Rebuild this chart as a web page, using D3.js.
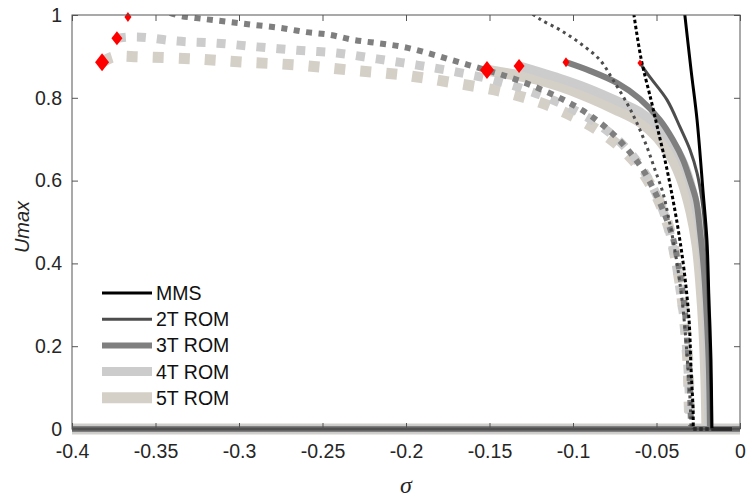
<!DOCTYPE html>
<html>
<head>
<meta charset="utf-8">
<script src="https://cdn.jsdelivr.net/npm/d3@7"></script>
<style>
  body { margin: 0; background: #fff; }
  svg { display: block; font-family: "Liberation Sans", Arial, sans-serif; }
  .tick text { font-size: 19.5px; fill: #262626; }
  .legend text { font-size: 19.5px; fill: #111; }
</style>
</head>
<body>
<svg width="747" height="498"></svg>
<script>
// ---- data: [sigma, Umax] ----
var sigmaTicks = [-0.4, -0.35, -0.3, -0.25, -0.2, -0.15, -0.1, -0.05, 0];
var sigmaTickLabels = ["-0.4", "-0.35", "-0.3", "-0.25", "-0.2", "-0.15", "-0.1", "-0.05", "0"];
var uTicks = [0, 0.2, 0.4, 0.6, 0.8, 1];
var uTickLabels = ["0", "0.2", "0.4", "0.6", "0.8", "1"];
var legendLabels = ["MMS", "2T ROM", "3T ROM", "4T ROM", "5T ROM"];

var mmsStable = [[-0.0335, 1.017], [-0.0293, 0.867], [-0.0257, 0.746], [-0.0222, 0.577], [-0.0198, 0.457],
    [-0.0186, 0.312], [-0.0174, 0.167], [-0.0168, 0]];
var mmsUnstable = [[-0.0641, 1.017], [-0.0593, 0.896], [-0.0533, 0.795], [-0.0491, 0.722], [-0.0443, 0.638],
    [-0.0401, 0.553], [-0.0365, 0.469], [-0.0335, 0.384], [-0.0305, 0.263], [-0.0293, 0.143],
    [-0.0281, 0.046], [-0.0280, 0]];
var mmsZeroStable = [[-0.0168, 0], [-0.0048, 0]];
var mmsZeroUnstable = [[-0.0280, 0], [-0.0168, 0]];

var rom2Stable = [[-0.0599, 0.884], [-0.0539, 0.850], [-0.0437, 0.795], [-0.0359, 0.729], [-0.0299, 0.674],
    [-0.0257, 0.618], [-0.0228, 0.553], [-0.0204, 0.457], [-0.0192, 0.336], [-0.0180, 0.191],
    [-0.0174, 0.070], [-0.0171, 0]];
var rom2Unstable = [[-0.1275, 1.012], [-0.1198, 0.990], [-0.1078, 0.964], [-0.0958, 0.932], [-0.0838, 0.891],
    [-0.0760, 0.843], [-0.0677, 0.787], [-0.0617, 0.739], [-0.0557, 0.681], [-0.0509, 0.626],
    [-0.0461, 0.570], [-0.0431, 0.517], [-0.0401, 0.457], [-0.0371, 0.384], [-0.0347, 0.312],
    [-0.0329, 0.239], [-0.0311, 0.143], [-0.0299, 0.070], [-0.0293, 0]];

var rom3Stable = [[-0.1042, 0.886], [-0.0898, 0.865], [-0.0737, 0.836], [-0.0599, 0.797], [-0.0479, 0.746],
    [-0.0401, 0.698], [-0.0341, 0.650], [-0.0299, 0.601], [-0.0263, 0.553], [-0.0240, 0.481],
    [-0.0216, 0.384], [-0.0198, 0.263], [-0.0186, 0.143], [-0.0180, 0]];
var rom3Unstable = [[-0.3413, 1.005], [-0.3353, 0.998], [-0.3204, 0.990], [-0.3054, 0.983], [-0.2910, 0.976],
    [-0.2754, 0.969], [-0.2605, 0.959], [-0.2455, 0.952], [-0.2317, 0.940], [-0.2168, 0.932],
    [-0.2018, 0.923], [-0.1868, 0.908], [-0.1725, 0.891], [-0.1581, 0.874], [-0.1437, 0.857],
    [-0.1299, 0.838], [-0.1156, 0.814], [-0.1018, 0.787], [-0.0892, 0.756], [-0.0772, 0.717],
    [-0.0671, 0.674], [-0.0581, 0.626], [-0.0509, 0.572], [-0.0449, 0.517], [-0.0401, 0.461],
    [-0.0371, 0.401], [-0.0347, 0.341], [-0.0329, 0.280], [-0.0317, 0.215], [-0.0305, 0.150],
    [-0.0299, 0.087], [-0.0293, 0]];

var rom4Stable = [[-0.1323, 0.877], [-0.1198, 0.862], [-0.1048, 0.843], [-0.0898, 0.821], [-0.0749, 0.795],
    [-0.0599, 0.766], [-0.0479, 0.727], [-0.0389, 0.681], [-0.0323, 0.626], [-0.0275, 0.558],
    [-0.0240, 0.481], [-0.0216, 0.384], [-0.0198, 0.263], [-0.0192, 0.143], [-0.0186, 0]];
var rom4Unstable = [[-0.3731, 0.944], [-0.3611, 0.947], [-0.3371, 0.937], [-0.3132, 0.932], [-0.2892, 0.923],
    [-0.2653, 0.915], [-0.2413, 0.908], [-0.2174, 0.894], [-0.1934, 0.879], [-0.1695, 0.862],
    [-0.1455, 0.841], [-0.1198, 0.807], [-0.0958, 0.763], [-0.0778, 0.715], [-0.0647, 0.662],
    [-0.0551, 0.606], [-0.0479, 0.546], [-0.0425, 0.481], [-0.0389, 0.413], [-0.0359, 0.336],
    [-0.0335, 0.263], [-0.0317, 0.179], [-0.0305, 0.094], [-0.0299, 0]];

var rom5Stable = [[-0.1515, 0.867], [-0.1377, 0.857], [-0.1198, 0.843], [-0.1048, 0.824], [-0.0898, 0.800],
    [-0.0749, 0.773], [-0.0599, 0.742], [-0.0491, 0.703], [-0.0407, 0.655], [-0.0341, 0.594],
    [-0.0293, 0.524], [-0.0257, 0.444], [-0.0234, 0.348], [-0.0216, 0.239], [-0.0204, 0.118],
    [-0.0198, 0]];
var rom5Unstable = [[-0.3820, 0.886], [-0.3754, 0.899], [-0.3593, 0.899], [-0.3275, 0.894], [-0.2970, 0.886],
    [-0.2647, 0.879], [-0.2335, 0.867], [-0.2018, 0.855], [-0.1713, 0.836], [-0.1395, 0.812],
    [-0.1108, 0.775], [-0.0826, 0.715], [-0.0641, 0.650], [-0.0509, 0.570], [-0.0431, 0.493],
    [-0.0383, 0.408], [-0.0353, 0.336], [-0.0329, 0.251], [-0.0311, 0.155], [-0.0305, 0.070],
    [-0.0299, 0]];

var zeroBranch = [[-0.4, 0], [0, 0]];

// saddle-node points (red diamonds)
var foldSeries = ["5T", "5T", "4T", "4T", "3T", "3T", "2T"];
var foldSigma = [-0.3820, -0.1515, -0.3731, -0.1323, -0.3665, -0.1042, -0.0599];
var foldU = [0.886, 0.867, 0.944, 0.877, 0.995, 0.886, 0.884];

// ---- styles ----
var styles = {
    "MMS": { color: "#000000", width: 3, dots: "3.5,2.5" },
    "2T": { color: "#4d4d4d", width: 3, dots: "3,4" },
    "3T": { color: "#7f7f7f", width: 6, dots: "6,6.5" },
    "4T": { color: "#cccccc", width: 9, dots: "9,11" },
    "5T": { color: "#d4d0c8", width: 11, dots: "11,15" }
};
var diamondSize = { "5T": [7, 9], "4T": [5.5, 7], "3T": [3.5, 5], "2T": [2.5, 3.5] };

var margin = { left: 72, right: 740, top: 15, bottom: 429 };
var xScale = d3.scaleLinear().domain([-0.4, 0]).range([margin.left, margin.right]);
var yScale = d3.scaleLinear().domain([0, 1]).range([margin.bottom, margin.top]);

var svg = d3.select("svg");

svg.append("clipPath").attr("id", "plotclip")
    .append("rect")
    .attr("x", margin.left).attr("y", margin.top)
    .attr("width", margin.right - margin.left)
    .attr("height", margin.bottom - margin.top + 10);

var line = d3.line()
    .x(function(d) { return xScale(d[0]); })
    .y(function(d) { return yScale(d[1]); })
    .curve(d3.curveCatmullRom.alpha(0.5));

var plot = svg.append("g").attr("clip-path", "url(#plotclip)");

// draw order: widest first, MMS on top
var curves = [
    ["5T", zeroBranch, false], ["5T", rom5Unstable, true], ["5T", rom5Stable, false],
    ["4T", zeroBranch, false], ["4T", rom4Unstable, true], ["4T", rom4Stable, false],
    ["3T", zeroBranch, false], ["3T", rom3Unstable, true], ["3T", rom3Stable, false],
    ["2T", zeroBranch, false], ["2T", rom2Unstable, true], ["2T", rom2Stable, false],
    ["MMS", mmsUnstable, true], ["MMS", mmsZeroUnstable, true],
    ["MMS", mmsStable, false], ["MMS", mmsZeroStable, false]
];

plot.selectAll("path.curve")
    .data(curves)
    .enter()
    .append("path")
    .attr("class", "curve")
    .attr("d", function(d) { return line(d[1]); })
    .attr("fill", "none")
    .attr("stroke", function(d) { return styles[d[0]].color; })
    .attr("stroke-width", function(d) { return styles[d[0]].width; })
    .attr("stroke-dasharray", function(d) { return d[2] ? styles[d[0]].dots : null; })
    .attr("stroke-linecap", "butt")
    .attr("stroke-linejoin", "round");

// fold points
svg.selectAll("path.fold")
    .data(foldSigma)
    .enter()
    .append("path")
    .attr("class", "fold")
    .attr("fill", "#ff0000")
    .attr("d", function(d, i) {
        var cx = xScale(d), cy = yScale(foldU[i]);
        var s = diamondSize[foldSeries[i]];
        return "M" + cx + "," + (cy - s[1]) + "L" + (cx + s[0]) + "," + cy +
            "L" + cx + "," + (cy + s[1]) + "L" + (cx - s[0]) + "," + cy + "Z";
    });

// ---- axes ----
svg.append("g")
    .attr("transform", "translate(0," + margin.bottom + ")")
    .call(d3.axisBottom(xScale).tickValues(sigmaTicks).tickSize(-6).tickPadding(15)
        .tickFormat(function(d, i) { return sigmaTickLabels[i]; }));
svg.append("g")
    .attr("transform", "translate(0," + margin.top + ")")
    .call(d3.axisTop(xScale).tickValues(sigmaTicks).tickSize(-6).tickFormat(""));
svg.append("g")
    .attr("transform", "translate(" + margin.left + ",0)")
    .call(d3.axisLeft(yScale).tickValues(uTicks).tickSize(-6).tickPadding(10)
        .tickFormat(function(d, i) { return uTickLabels[i]; }));
svg.append("g")
    .attr("transform", "translate(" + margin.right + ",0)")
    .call(d3.axisRight(yScale).tickValues(uTicks).tickSize(-6).tickFormat(""));

svg.selectAll(".domain").remove();
svg.selectAll(".tick line").attr("stroke", "#555");
svg.selectAll(".tick text").attr("font-family", null).attr("font-size", null);

svg.append("rect")
    .attr("x", margin.left).attr("y", margin.top)
    .attr("width", margin.right - margin.left)
    .attr("height", margin.bottom - margin.top)
    .attr("fill", "none")
    .attr("stroke", "#555")
    .attr("stroke-width", 1);

svg.append("text")
    .attr("transform", "translate(22,227) rotate(-90)")
    .attr("text-anchor", "middle")
    .attr("dominant-baseline", "central")
    .attr("font-style", "italic")
    .attr("font-size", 20)
    .attr("fill", "#262626")
    .text("Umax");

svg.append("text")
    .attr("x", 406).attr("y", 485)
    .attr("text-anchor", "middle")
    .attr("dominant-baseline", "central")
    .attr("font-family", "'Liberation Serif', 'Times New Roman', serif")
    .attr("font-style", "italic")
    .attr("font-size", 24)
    .attr("fill", "#262626")
    .text("σ");

// ---- legend ----
var legendKeys = ["MMS", "2T", "3T", "4T", "5T"];
var legend = svg.append("g").attr("class", "legend");
var rows = legend.selectAll("g")
    .data(legendKeys)
    .enter()
    .append("g")
    .attr("transform", function(d, i) { return "translate(102," + (293 + i * 26.2) + ")"; });
rows.append("line")
    .attr("x1", 0).attr("x2", 50)
    .attr("stroke", function(d) { return styles[d].color; })
    .attr("stroke-width", function(d) { return styles[d].width; });
rows.append("text")
    .attr("x", 54)
    .attr("dominant-baseline", "central")
    .text(function(d, i) { return legendLabels[i]; });
</script>
</body>
</html>
